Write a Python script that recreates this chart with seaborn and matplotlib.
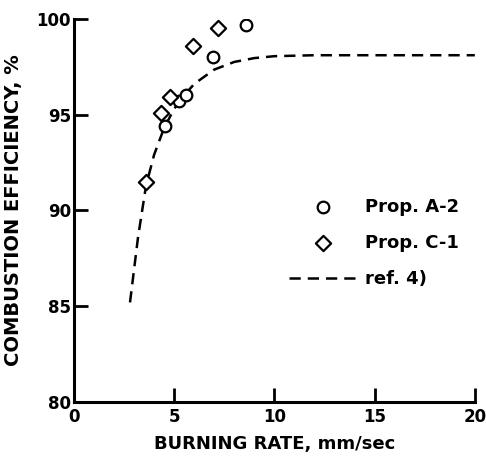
# Combustion efficiency vs burning rate (scanned figure recreation)

import numpy as np
import pandas as pd
import matplotlib
matplotlib.use("Agg")
import matplotlib.pyplot as plt
import seaborn as sns

# =========================
# DATA
# =========================

a2_rate = [4.55, 5.25, 5.6, 6.95, 8.6]
a2_eff = [94.4, 95.7, 96.0, 98.0, 99.7]

c1_rate = [3.6, 4.35, 4.8, 5.95, 7.2]
c1_eff = [91.5, 95.1, 95.9, 98.6, 99.5]

ref_rate = [2.8, 3.2, 3.6, 4.0, 4.5, 5.0, 5.5, 6.0, 7.0, 8.0, 9.0, 10.0, 12.0, 20.0]
ref_eff = [85.2, 88.6, 91.3, 92.9, 94.3, 95.3, 96.0, 96.6, 97.35, 97.75, 97.95, 98.05, 98.1, 98.1]

x_ticks = [0, 5, 10, 15, 20]
y_ticks = [80, 85, 90, 95, 100]

# =========================
# STYLE
# =========================

sns.set_theme(style="ticks")
plt.rcParams["font.family"] = ["DejaVu Sans"]
plt.rcParams["font.weight"] = "bold"
plt.rcParams["text.color"] = "black"
plt.rcParams["axes.labelcolor"] = "black"
plt.rcParams["xtick.color"] = "black"
plt.rcParams["ytick.color"] = "black"

fig = plt.figure(figsize=(4.86, 4.59), dpi=100)
ax = fig.add_axes([0.152, 0.124, 0.825, 0.835])

# =========================
# PLOT
# =========================

df_ref = pd.DataFrame({"rate": ref_rate, "eff": ref_eff})
sns.lineplot(x="rate", y="eff", data=df_ref, ax=ax, color="black",
             linewidth=1.8, label="ref. 4)")
ax.lines[-1].set_dashes([4.5, 2.8])

df_a2 = pd.DataFrame({"rate": a2_rate, "eff": a2_eff})
sns.scatterplot(x="rate", y="eff", data=df_a2, ax=ax, marker="o", s=70,
                facecolor="white", edgecolor="black", linewidth=1.6,
                label="Prop. A-2", zorder=3)

df_c1 = pd.DataFrame({"rate": c1_rate, "eff": c1_eff})
sns.scatterplot(x="rate", y="eff", data=df_c1, ax=ax, marker="D", s=60,
                facecolor="white", edgecolor="black", linewidth=1.6,
                label="Prop. C-1", zorder=3)

# =========================
# AXES
# =========================

ax.set_xlim(0, 20)
ax.set_ylim(80, 100)
ax.set_xticks(x_ticks)
ax.set_yticks(y_ticks)
ax.set_xticklabels([str(t) for t in x_ticks], fontsize=12, fontweight="bold")
ax.set_yticklabels([str(t) for t in y_ticks], fontsize=12, fontweight="bold")
ax.tick_params(direction="in", length=10, width=2, colors="black", pad=2)
ax.tick_params(axis="x", pad=4)

for side in ["top", "right"]:
    ax.spines[side].set_visible(False)
for side in ["left", "bottom"]:
    ax.spines[side].set_linewidth(2.2)
    ax.spines[side].set_color("black")

ax.set_xlabel("BURNING RATE, mm/sec", fontsize=13, fontweight="bold",
              labelpad=7, color="black")
ax.set_ylabel("COMBUSTION EFFICIENCY, %", fontsize=14, fontweight="bold",
              labelpad=10, color="black")

# =========================
# LEGEND
# =========================

handles, labels = ax.get_legend_handles_labels()
order = [1, 2, 0]
leg = ax.legend([handles[i] for i in order], [labels[i] for i in order],
                loc="center left", bbox_to_anchor=(0.497, 0.415),
                frameon=False, handlelength=3.7, handletextpad=0.5,
                labelspacing=1.0, prop={"size": 13, "weight": "bold"})
for t in leg.get_texts():
    t.set_color("black")

plt.savefig("out.png", dpi=100)
plt.close()
